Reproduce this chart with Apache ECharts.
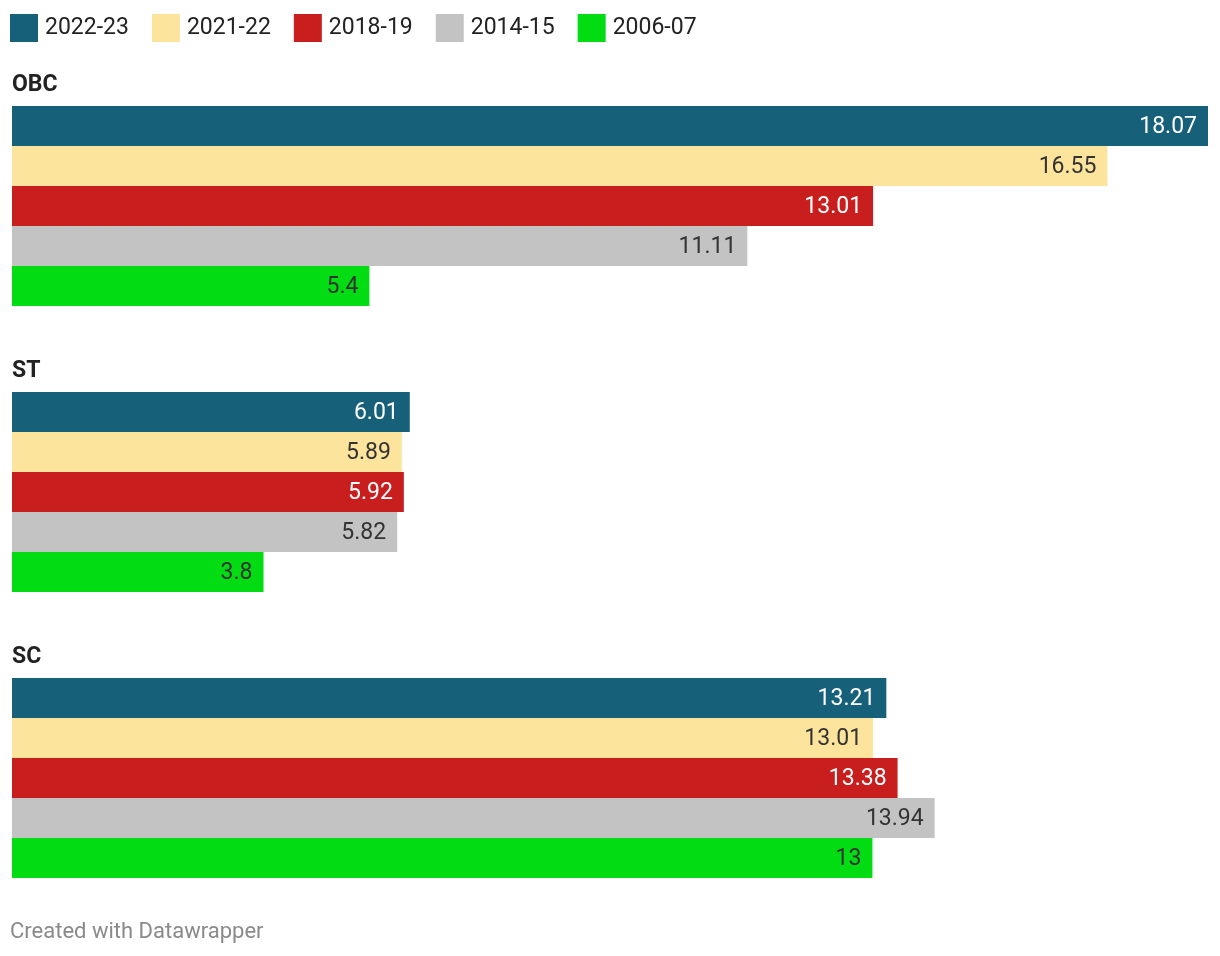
<!DOCTYPE html>
<html>
<head>
<meta charset="utf-8">
<script src="https://cdn.jsdelivr.net/npm/echarts@6/dist/echarts.min.js"></script>
<style>
html,body{margin:0;padding:0;background:#fff;}
#chart{width:1220px;height:956px;}
</style>
</head>
<body>
<div id="chart"></div>
<script>
// ---- data ----
const groups = ['OBC', 'ST', 'SC'];
const years = ['2022-23', '2021-22', '2018-19', '2014-15', '2006-07'];
const y2022_23 = [18.07, 6.01, 13.21];
const y2021_22 = [16.55, 5.89, 13.01];
const y2018_19 = [13.01, 5.92, 13.38];
const y2014_15 = [11.11, 5.82, 13.94];
const y2006_07 = [5.4, 3.8, 13];
const seriesValues = [y2022_23, y2021_22, y2018_19, y2014_15, y2006_07];

// ---- styles ----
const colors = ['#176079', '#fde49c', '#c81e1e', '#c3c3c3', '#01dc13'];
const labelColors = ['#ffffff', '#333333', '#ffffff', '#333333', '#333333'];
const font = 'Roboto, "Noto Sans", sans-serif';
const groupTops = [106, 392, 678];
const barH = 40;
const xMax = 18.07;

const grids = [], xAxes = [], yAxes = [], series = [], graphics = [];
groups.forEach((g, gi) => {
  grids.push({ left: 12, width: 1196, top: groupTops[gi], height: barH * years.length });
  xAxes.push({ gridIndex: gi, type: 'value', min: 0, max: xMax, show: false });
  yAxes.push({ gridIndex: gi, type: 'category', data: years, inverse: true, show: false });
  graphics.push({
    type: 'text', left: 12, top: groupTops[gi] - 32,
    style: { text: g, font: 'bold 23px ' + font, fill: '#222' }
  });
  years.forEach((yr, yi) => {
    const data = years.map((_, k) => (k === yi ? seriesValues[yi][gi] : '-'));
    series.push({
      name: yr, type: 'bar', xAxisIndex: gi, yAxisIndex: gi,
      data: data, barWidth: barH, barGap: '-100%',
      itemStyle: { color: colors[yi] },
      label: {
        show: true, position: 'insideRight', distance: 11, offset: [0, 1],
        color: labelColors[yi], fontSize: 23, fontFamily: font,
        formatter: p => String(p.value)
      },
      emphasis: { disabled: true },
      animation: false
    });
  });
});

graphics.push({
  type: 'text', left: 10, top: 921,
  style: { text: 'Created with Datawrapper', font: '22px ' + font, fill: '#8a8a8a' }
});

const chart = echarts.init(document.getElementById('chart'), null, { renderer: 'canvas' });
chart.setOption({
  backgroundColor: '#ffffff',
  animation: false,
  color: colors,
  legend: {
    data: years, left: 10, top: 14, padding: 0, itemWidth: 28, itemHeight: 28, itemGap: 23,
    icon: 'rect', selectedMode: false,
    textStyle: { fontSize: 23, fontFamily: font, color: '#222', padding: [0, 0, 0, 2] }
  },
  grid: grids, xAxis: xAxes, yAxis: yAxes, series: series,
  graphic: graphics
});
</script>
</body>
</html>
